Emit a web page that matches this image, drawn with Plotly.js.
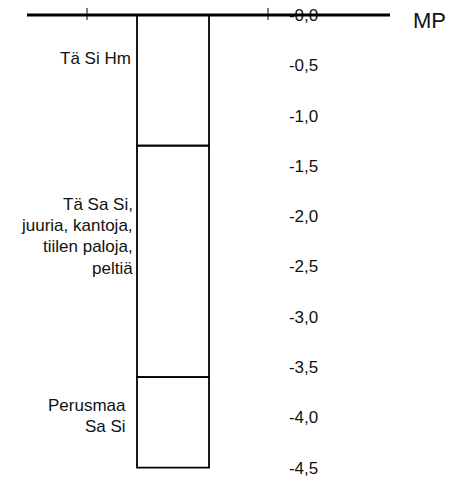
<!DOCTYPE html>
<html>
<head>
<meta charset="utf-8">
<script src="https://cdn.plot.ly/plotly-3.0.1.min.js"></script>
<style>html,body{margin:0;padding:0;background:#fff;}#chart{width:454px;height:484px;}</style>
</head>
<body>
<div id="chart"></div>
<script>
// Layer data (depth in metres below MP)
const layerTop = [0, 1.3, 3.6];
const layerBottom = [1.3, 3.6, 4.5];
const layerLabels = [
  ["Tä Si Hm"],
  ["Tä Sa Si,", "juuria, kantoja,", "tiilen paloja,", "peltiä"],
  ["Perusmaa", "Sa Si"]
];
const labelDepth = [0.43, 2.2, 3.99];
// Depth tick labels
const tickDepths = [0, 0.5, 1.0, 1.5, 2.0, 2.5, 3.0, 3.5, 4.0, 4.5];
const tickText = ["-0,0", "-0,5", "-1,0", "-1,5", "-2,0", "-2,5", "-3,0", "-3,5", "-4,0", "-4,5"];
const refLabel = "MP";

const colX = 173, colW = 72;
const labelRight = [133, 135, 128];
const font = "Liberation Sans, Arial, sans-serif";

const traces = [{
  type: "bar",
  x: layerTop.map(() => colX),
  base: layerTop.map(t => -t),
  y: layerTop.map((t, i) => -(layerBottom[i] - t)),
  width: layerTop.map(() => colW),
  marker: { color: "#ffffff", line: { color: "#000000", width: 1.8 } },
  hoverinfo: "skip",
  showlegend: false
}];

const annotations = [];
const lineGap = 0.21; // depth units per text line
layerLabels.forEach((lines, i) => {
  const n = lines.length;
  lines.forEach((ln, j) => {
    const y = -(labelDepth[i] + (j - (n - 1) / 2) * lineGap);
    annotations.push({
      x: labelRight[i], y: y, xref: "x", yref: "y", text: ln, showarrow: false,
      xanchor: "right", yanchor: "middle", align: "right",
      font: { family: font, size: 17, color: "#111" }
    });
  });
});
annotations.push({
  x: 411, y: -0.05, xref: "x", yref: "y", text: refLabel, showarrow: false,
  xanchor: "left", yanchor: "middle",
  font: { family: font, size: 22, color: "#111" }
});

const shapes = [
  { type: "line", xref: "x", yref: "y", x0: 27, x1: 390, y0: 0, y1: 0, line: { color: "#000", width: 3 }, layer: "above" },
  { type: "line", xref: "x", yref: "y", x0: 87, x1: 87, y0: 0.07, y1: -0.05, line: { color: "#000", width: 1 } },
  { type: "line", xref: "x", yref: "y", x0: 268, x1: 268, y0: 0.07, y1: -0.05, line: { color: "#000", width: 1 } }
];

const layout = {
  width: 454, height: 484,
  margin: { l: 0, r: 0, t: 0, b: 0, pad: 0 },
  paper_bgcolor: "#fff", plot_bgcolor: "#fff",
  showlegend: false,
  xaxis: { range: [0, 454], visible: false, fixedrange: true },
  yaxis: {
    range: [-4.662, 0.149], anchor: "free", position: 0.701, side: "left",
    tickvals: tickDepths.map(d => -d), ticktext: tickText,
    ticks: "", showgrid: false, zeroline: false, showline: false,
    tickfont: { family: font, size: 17, color: "#111" }, fixedrange: true
  },
  annotations: annotations,
  shapes: shapes
};

Plotly.newPlot("chart", traces, layout, { staticPlot: true, displayModeBar: false });
</script>
</body>
</html>
